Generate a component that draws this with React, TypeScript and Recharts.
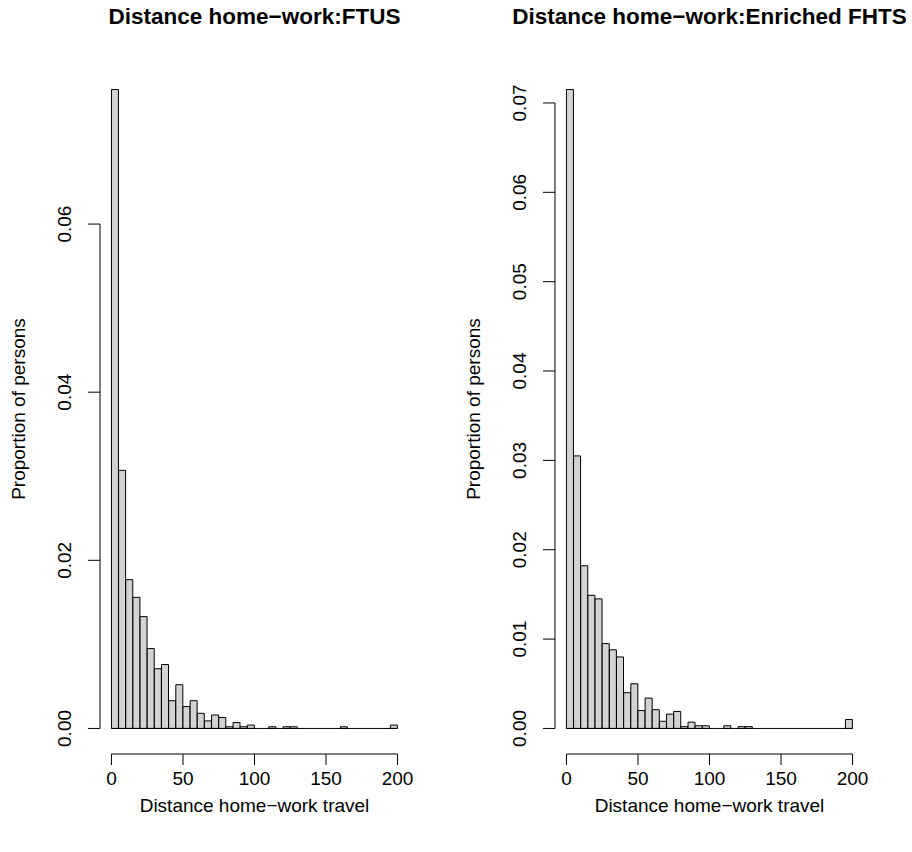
import React from 'react';
import { BarChart, Bar, XAxis, YAxis, ReferenceLine } from 'recharts';

// Histogram bin edges (km)
const binEdges = [0, 5, 10, 15, 20, 25, 30, 35, 40, 45, 50, 55, 60, 65, 70, 75, 80, 85, 90, 95, 100,
  105, 110, 115, 120, 125, 130, 135, 140, 145, 150, 155, 160, 165, 170, 175, 180, 185, 190, 195, 200];

// Density per bin, FTUS
const ftusDensity = [0.0760, 0.0307, 0.0177, 0.0156, 0.0133, 0.0095, 0.0071, 0.0076, 0.0033, 0.0052,
  0.0026, 0.0033, 0.0018, 0.0009, 0.0016, 0.0013, 0.0002, 0.0007, 0.0002, 0.0004,
  0, 0, 0.0002, 0, 0.0002, 0.0002, 0, 0, 0, 0,
  0, 0, 0.0002, 0, 0, 0, 0, 0, 0, 0.0004];

// Density per bin, Enriched FHTS
const fhtsDensity = [0.0715, 0.0305, 0.0182, 0.0149, 0.0145, 0.0095, 0.0088, 0.0080, 0.0040, 0.0050,
  0.0020, 0.0034, 0.0021, 0.0008, 0.0016, 0.0019, 0.0002, 0.0007, 0.0003, 0.0003,
  0, 0, 0.0003, 0, 0.0002, 0.0002, 0, 0, 0, 0,
  0, 0, 0, 0, 0, 0, 0, 0, 0, 0.0010];

const xTicks = [0, 50, 100, 150, 200];
const ftusYTicks = [0, 0.02, 0.04, 0.06];
const fhtsYTicks = [0, 0.01, 0.02, 0.03, 0.04, 0.05, 0.06, 0.07];

const ftusTitle = 'Distance home\u2212work:FTUS';
const fhtsTitle = 'Distance home\u2212work:Enriched FHTS';
const xLabel = 'Distance home\u2212work travel';
const yLabel = 'Proportion of persons';

const FONT = '"Liberation Sans", Arial, Helvetica, sans-serif';

const W = 456;
const H = 852;
const PLOT_LEFT = 100;
const PLOT_TOP = 64;
const PLOT_BOTTOM = 754;
const PLOT_RIGHT = 409;

function buildRows(values: number[]) {
  return values.map((v, i) => ({
    mid: (binEdges[i] + binEdges[i + 1]) / 2,
    density: v,
  }));
}

const XTick = (props: any) => {
  const { x, payload } = props;
  return (
    <text x={x} y={PLOT_BOTTOM + 31} textAnchor="middle" fontFamily={FONT} fontSize={19} fill="#000">
      {String(payload.value)}
    </text>
  );
};

const YTick = (props: any) => {
  const { y, payload } = props;
  const lx = PLOT_LEFT - 35;
  return (
    <text
      x={lx}
      y={y}
      textAnchor="middle"
      dominantBaseline="central"
      transform={`rotate(-90 ${lx} ${y})`}
      fontFamily={FONT}
      fontSize={19}
      fill="#000"
    >
      {Number(payload.value).toFixed(2)}
    </text>
  );
};

function Panel({ values, yTicks, title, left }: { values: number[]; yTicks: number[]; title: string; left: number }) {
  const rows = buildRows(values);
  const xMin = binEdges[0];
  const xMax = binEdges[binEdges.length - 1];
  const xPad = (xMax - xMin) * 0.04;
  const yMax = Math.max(...values);
  const yPad = yMax * 0.04;
  const yLo = -yPad;
  const yHi = yMax + yPad;
  const plotMidX = (PLOT_LEFT + PLOT_RIGHT) / 2;
  const plotMidY = (PLOT_TOP + PLOT_BOTTOM) / 2;
  return (
    <div style={{ position: 'absolute', left, top: 0, width: W, height: H }}>
      <BarChart
        width={W}
        height={H}
        data={rows}
        margin={{ top: PLOT_TOP, right: W - PLOT_RIGHT, bottom: 0, left: 0 }}
        barCategoryGap={0}
        barGap={0}
      >
        <XAxis
          dataKey="mid"
          type="number"
          domain={[xMin - xPad, xMax + xPad]}
          allowDataOverflow
          ticks={xTicks}
          interval={0}
          axisLine={false}
          tickLine={{ stroke: '#000', strokeWidth: 1 }}
          tickSize={11}
          height={H - PLOT_BOTTOM}
          tick={<XTick />}
        />
        <YAxis
          type="number"
          domain={[yLo, yHi]}
          allowDataOverflow
          ticks={yTicks}
          interval={0}
          axisLine={false}
          tickLine={{ stroke: '#000', strokeWidth: 1 }}
          tickSize={12}
          width={PLOT_LEFT}
          tick={<YTick />}
        />
        <Bar dataKey="density" fill="#D3D3D3" stroke="#000" strokeWidth={1} isAnimationActive={false} />
        <ReferenceLine
          segment={[{ x: xMin, y: 0 }, { x: xMax, y: 0 }]}
          stroke="#000"
          strokeWidth={1}
          ifOverflow="visible"
        />
        <ReferenceLine
          segment={[{ x: xTicks[0], y: yLo }, { x: xTicks[xTicks.length - 1], y: yLo }]}
          stroke="#000"
          strokeWidth={1}
          ifOverflow="visible"
        />
        <ReferenceLine
          segment={[{ x: xMin - xPad, y: yTicks[0] }, { x: xMin - xPad, y: yTicks[yTicks.length - 1] }]}
          stroke="#000"
          strokeWidth={1}
          ifOverflow="visible"
        />
      </BarChart>
      <div
        style={{
          position: 'absolute',
          left: plotMidX - 200,
          width: 400,
          top: 4,
          height: 26,
          lineHeight: '26px',
          textAlign: 'center',
          fontFamily: FONT,
          fontWeight: 'bold',
          fontSize: 22.5,
          color: '#000',
          whiteSpace: 'nowrap',
        }}
      >
        {title}
      </div>
      <div
        style={{
          position: 'absolute',
          left: plotMidX - 200,
          width: 400,
          top: 795,
          height: 22,
          lineHeight: '22px',
          textAlign: 'center',
          fontFamily: FONT,
          fontSize: 19,
          color: '#000',
          whiteSpace: 'nowrap',
        }}
      >
        {xLabel}
      </div>
      <div
        style={{
          position: 'absolute',
          left: PLOT_LEFT - 81 - 200,
          width: 400,
          top: plotMidY - 11,
          height: 22,
          lineHeight: '22px',
          textAlign: 'center',
          fontFamily: FONT,
          fontSize: 19,
          color: '#000',
          whiteSpace: 'nowrap',
          transform: 'rotate(-90deg)',
          transformOrigin: '50% 50%',
        }}
      >
        {yLabel}
      </div>
    </div>
  );
}

export default function App() {
  return (
    <div style={{ position: 'absolute', left: 0, top: 0, width: 912, height: 852, background: '#fff', overflow: 'hidden' }}>
      <Panel values={ftusDensity} yTicks={ftusYTicks} title={ftusTitle} left={0} />
      <Panel values={fhtsDensity} yTicks={fhtsYTicks} title={fhtsTitle} left={455} />
    </div>
  );
}
